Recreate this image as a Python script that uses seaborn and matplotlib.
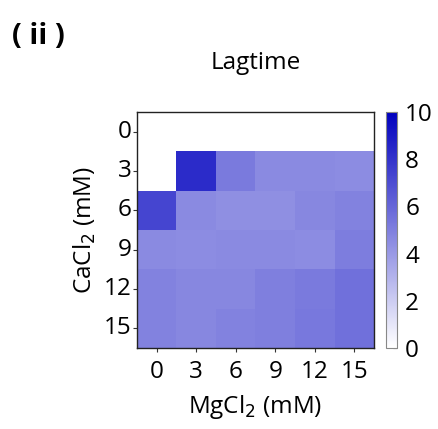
import numpy as np
import pandas as pd
import seaborn as sns
import matplotlib
matplotlib.use("Agg")
import matplotlib.pyplot as plt
from matplotlib.colors import LinearSegmentedColormap

# Salt concentrations (mM)
cacl2 = [0, 3, 6, 9, 12, 15]
mgcl2 = [0, 3, 6, 9, 12, 15]

# Lag time per CaCl2 row (columns follow MgCl2); NaN = no lag time measured
lag_ca0 = [np.nan, np.nan, np.nan, np.nan, np.nan, np.nan]
lag_ca3 = [np.nan, 8.3, 5.2, 4.6, 4.6, 4.5]
lag_ca6 = [7.3, 4.6, 4.4, 4.4, 4.7, 4.9]
lag_ca9 = [4.6, 4.5, 4.6, 4.6, 4.5, 5.1]
lag_ca12 = [4.9, 4.7, 4.7, 5.0, 5.2, 5.6]
lag_ca15 = [4.9, 4.7, 4.9, 5.0, 5.3, 5.6]

df = pd.DataFrame([lag_ca0, lag_ca3, lag_ca6, lag_ca9, lag_ca12, lag_ca15],
                  index=cacl2, columns=mgcl2)

sns.set_theme(style="white")
plt.rcParams["font.family"] = ["Open Sans", "DejaVu Sans"]
plt.rcParams["text.color"] = "black"
plt.rcParams["axes.labelcolor"] = "black"
plt.rcParams["xtick.color"] = "black"
plt.rcParams["ytick.color"] = "black"

cmap = LinearSegmentedColormap.from_list("white_blue", ["#ffffff", "#0000be"])

fig = plt.figure(figsize=(4.39, 4.29), dpi=100)
ax = fig.add_axes([0.312, 0.189, 0.540, 0.550])
cax = fig.add_axes([0.879, 0.189, 0.025, 0.550])

sns.heatmap(df, ax=ax, cbar_ax=cax, cmap=cmap, vmin=0, vmax=10,
            linewidths=0, square=False)

for s in ax.spines.values():
    s.set_visible(True)
    s.set_color("#222222")
    s.set_linewidth(1.0)

ax.tick_params(axis="both", which="major", labelsize=17.5, length=3,
               width=0.8, color="#333333", bottom=True, left=True)
ax.tick_params(axis="x", pad=6)
ax.tick_params(axis="y", pad=1)
ax.set_xticklabels([str(v) for v in mgcl2], rotation=0)
ax.set_yticklabels([str(v) for v in cacl2], rotation=0)
ax.set_xlabel("MgCl$_2$ (mM)", fontsize=17.5, labelpad=6)
ax.set_ylabel("CaCl$_2$ (mM)", fontsize=17.5, labelpad=4)
ax.set_title("Lagtime", fontsize=17.5, pad=31)

cbar = ax.collections[0].colorbar
cbar.set_ticks([0, 2, 4, 6, 8, 10])
cbar.ax.tick_params(labelsize=17.5, length=3, direction="in", width=0.8,
                    color="#333333", pad=6)
cbar.outline.set_edgecolor("#888888")
cbar.outline.set_linewidth(0.8)

fig.text(0.028, 0.897, "( ii )", fontsize=21, fontweight="bold")

fig.savefig("out.png", dpi=100)
